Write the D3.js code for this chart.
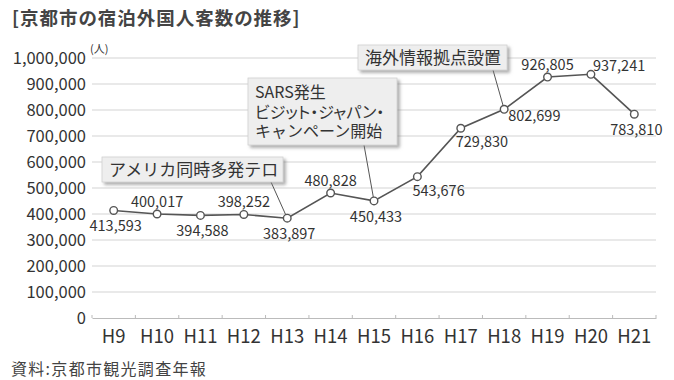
<!DOCTYPE html>
<html>
<head>
<meta charset="utf-8">
<script src="https://cdn.jsdelivr.net/npm/d3@7"></script>
<style>
  html, body { margin: 0; padding: 0; background: #fff; }
  svg { display: block; }
  text { font-family: "Noto Sans CJK JP", "Noto Sans", sans-serif; fill: #333; }
  .jp { font-feature-settings: "palt"; }
</style>
</head>
<body>
<svg id="chart" width="674" height="380"></svg>
<script>
// Overnight foreign visitors to Kyoto city, by fiscal year (Heisei)
const years = ["H9","H10","H11","H12","H13","H14","H15","H16","H17","H18","H19","H20","H21"];
const guests = [413593, 400017, 394588, 398252, 383897, 480828, 450433, 543676, 729830, 802699, 926805, 937241, 783810];
const yTicks = [0, 100000, 200000, 300000, 400000, 500000, 600000, 700000, 800000, 900000, 1000000];

// Where each value label sits relative to its point
const labelSide = ["below","above","below","above","below","above","below","belowRight","belowRight","right","above","aboveRight","below"];

// Event callouts
const events = [
  { year: "H13", lines: ["アメリカ同時多発テロ"] },
  { year: "H15", lines: ["SARS発生", "ビジット・ジャパン・", "キャンペーン開始"] },
  { year: "H18", lines: ["海外情報拠点設置"] }
];

const titleText = "[京都市の宿泊外国人客数の推移]";
const unitText = "(人)";
const sourceText = "資料:京都市観光調査年報";

const svg = d3.select("#chart");
const fmt = d3.format(",");

const x = d3.scaleBand().domain(years).range([92, 656]);
const y = d3.scaleLinear().domain([0, 1000000]).range([318, 58]);
const cx = d => x(d) + x.bandwidth() / 2;

// drop shadow for the callout boxes
const defs = svg.append("defs");
const f = defs.append("filter").attr("id", "shadow").attr("x", "-10%").attr("y", "-20%").attr("width", "130%").attr("height", "160%");
f.append("feDropShadow").attr("dx", 2.5).attr("dy", 2.5).attr("stdDeviation", 1.6)
  .attr("flood-color", "#777").attr("flood-opacity", 0.6);

// title
svg.append("text").attr("class", "jp").attr("x", 12).attr("y", 25)
  .attr("font-size", 18.5).attr("font-weight", 700).attr("letter-spacing", 1.0)
  .style("fill", "#444")
  .text(titleText);

// horizontal grid
svg.append("g").selectAll("line").data(yTicks.filter(d => d > 0)).join("line")
  .attr("x1", 92).attr("x2", 656)
  .attr("y1", d => y(d)).attr("y2", d => y(d))
  .attr("stroke", "#d3d3d3").attr("stroke-width", 1);

// y axis labels
const yAxis = svg.append("g").attr("transform", "translate(86,0)")
  .call(d3.axisLeft(y).tickValues(yTicks).tickFormat(fmt).tickSize(0).tickPadding(0));
yAxis.select(".domain").remove();
yAxis.selectAll("text").attr("font-size", 16.5).attr("dy", "0.36em")
  .style("font-family", "\"Noto Sans CJK JP\", sans-serif").style("fill", "#333");

svg.append("text").attr("x", 90).attr("y", 53).attr("font-size", 11).text(unitText);

// x axis
const xAxis = svg.append("g").attr("transform", `translate(0,${y(0)})`)
  .call(d3.axisBottom(x).tickSize(0).tickPadding(12));
xAxis.select(".domain").attr("stroke", "#bbb");
xAxis.selectAll("text").attr("font-size", 18.5).attr("dy", "0.72em")
  .style("font-family", "\"Noto Sans CJK JP\", sans-serif").style("fill", "#333");
// small tick marks on the category boundaries
svg.append("g").selectAll("line").data(years.concat(["end"])).join("line")
  .attr("x1", (d, i) => x.range()[0] + i * x.step())
  .attr("x2", (d, i) => x.range()[0] + i * x.step())
  .attr("y1", y(0)).attr("y2", y(0) - 3)
  .attr("stroke", "#bbb");

// callout boxes with leader lines
const boxes = [
  { left: 102, top: 157, w: 181, h: 25, leadX: 271 },
  { left: 248, top: 78, w: 149, h: 67, leadX: 364 },
  { left: 358, top: 45, w: 149, h: 25, leadX: 493 }
];
events.forEach((ev, i) => {
  const b = boxes[i];
  const idx = years.indexOf(ev.year);
  svg.append("line")
    .attr("x1", b.leadX).attr("y1", b.top + b.h)
    .attr("x2", cx(ev.year)).attr("y2", y(guests[idx]))
    .attr("stroke", "#555").attr("stroke-width", 1);
  svg.append("rect")
    .attr("x", b.left).attr("y", b.top).attr("width", b.w).attr("height", b.h)
    .attr("fill", "#eeeeee").attr("stroke", "#d0d0d0").attr("stroke-width", 0.8)
    .attr("filter", "url(#shadow)");
  const multi = ev.lines.length > 1;
  ev.lines.forEach((ln, j) => {
    svg.append("text")
      .classed("jp", ln.includes("・"))
      .attr("x", b.left + 7)
      .attr("y", b.top + (multi ? 20 : 19) + j * 19.5)
      .attr("font-size", multi ? 16 : 17)
      .text(ln);
  });
});

// line
svg.append("path").datum(guests)
  .attr("fill", "none").attr("stroke", "#555").attr("stroke-width", 1.6)
  .attr("d", d3.line().x((d, i) => cx(years[i])).y(d => y(d)));

// points
svg.append("g").selectAll("circle").data(guests).join("circle")
  .attr("cx", (d, i) => cx(years[i])).attr("cy", d => y(d)).attr("r", 3.8)
  .attr("fill", "#fff").attr("stroke", "#555").attr("stroke-width", 1.4);

// value labels
const place = {
  below:      { dx: 2,  dy: 21, anchor: "middle" },
  above:      { dx: 0,  dy: -7, anchor: "middle" },
  belowRight: { dx: -5, dy: 19, anchor: "start" },
  right:      { dx: 4,  dy: 12, anchor: "start" },
  aboveRight: { dx: 2,  dy: -3, anchor: "start" }
};
svg.append("g").selectAll("text").data(guests).join("text")
  .attr("font-size", 14.5)
  .attr("text-anchor", (d, i) => place[labelSide[i]].anchor)
  .attr("x", (d, i) => cx(years[i]) + place[labelSide[i]].dx)
  .attr("y", (d, i) => y(d) + place[labelSide[i]].dy)
  .text(d => fmt(d));

// source
svg.append("text").attr("class", "jp").attr("x", 11).attr("y", 375)
  .attr("font-size", 16).attr("letter-spacing", 1.3).style("fill", "#444").text(sourceText);
</script>
</body>
</html>
